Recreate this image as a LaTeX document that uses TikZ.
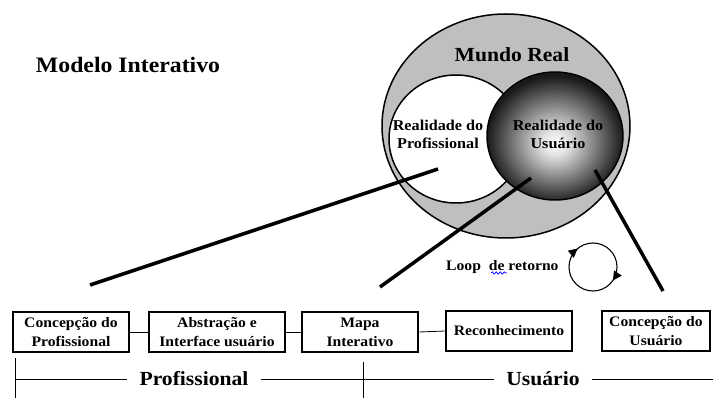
\documentclass[tikz,border=0pt]{standalone}
\usepackage{fontspec}
\setmainfont{Liberation Serif}[FakeStretch=1.08]
\usetikzlibrary{decorations.markings,decorations.pathmorphing,arrows.meta}
\pgfdeclareradialshading{ball}{\pgfpoint{0bp}{-3bp}}{color(0bp)=(white); color(5bp)=(white!88!black); color(25bp)=(black!90); color(50bp)=(black!90)}
\begin{document}
\begin{tikzpicture}[x=1pt,y=-1pt,
  box/.style={draw, line width=2.5pt, minimum height=40pt, inner sep=0pt, align=center, font=\fontsize{14.5}{19}\selectfont\bfseries},
  link/.style={line width=0.8pt},
  bigline/.style={line width=3.5pt},
  lbl/.style={inner sep=0pt, align=center},
  axis/.style={line width=0.8pt}
]
\useasboundingbox (0,0) rectangle (713,398);
% title
\node[lbl, font=\fontsize{22}{26}\selectfont\bfseries] (title) at (128,65) {Modelo Interativo};
% circles
\draw[fill=gray!50, line width=1.5pt] (506,126) ellipse [x radius=124, y radius=112];
\draw[fill=white, line width=1.5pt] (456,139) ellipse [x radius=67, y radius=64];
\draw[shade, shading=ball, line width=1.5pt] (555,136) ellipse [x radius=68, y radius=64];
\node[lbl, font=\fontsize{20}{24}\selectfont\bfseries] (mundo) at (512,55) {Mundo Real};
\node[lbl, font=\fontsize{15}{18}\selectfont\bfseries] (rprof) at (438,134) {Realidade do\\Profissional};
\node[lbl, font=\fontsize{15}{18}\selectfont\bfseries] (rusu) at (558,134) {Realidade do\\Usuário};
% big lines
\coordinate (p1) at (438,169); \coordinate (q1) at (90,285);
\coordinate (p2) at (531,178); \coordinate (q2) at (380,287);
\coordinate (p3) at (595,170); \coordinate (q3) at (663,291);
\draw[bigline] (p1) -- (q1);
\draw[bigline] (p2) -- (q2);
\draw[bigline] (p3) -- (q3);
% loop
\node[lbl, font=\fontsize{14.5}{16}\selectfont\bfseries, anchor=west] (loop) at (446,267) {Loop~~de retorno};
\draw[blue, line width=0.7pt, decorate, decoration={snake, segment length=4pt, amplitude=1.2pt}] (491,273) -- (507,273);
\draw[line width=1.1pt, postaction={decorate}, decoration={markings,
   mark=at position 0.095 with {\arrow{Triangle[length=9pt,width=9pt]}},
   mark=at position 0.64 with {\arrow{Triangle[length=9pt,width=9pt]}}}]
   (593,267) circle [radius=24];
% boxes
\node[box, minimum width=116pt] (b1) at (71,332) {Concepção do\\Profissional};
\node[box, minimum width=136pt] (b2) at (217,332) {Abstração e\\Interface usuário};
\node[box, minimum width=116pt] (b3) at (360,332) {Mapa\\Interativo};
\node[box, minimum width=126pt] (b4) at (509,331) {Reconhecimento};
\node[box, minimum width=108pt] (b5) at (656,331) {Concepção do\\Usuário};
\draw[link] (b1.east) -- (b2.west);
\draw[link] (b2.east) -- (b3.west);
\draw[link] (b3.east) -- (b4.west);
% bottom axis
\node[inner sep=12pt, font=\fontsize{20}{24}\selectfont\bfseries] (prof) at (194,379) {Profissional};
\node[inner sep=12pt, font=\fontsize{20}{24}\selectfont\bfseries] (usu) at (543,379) {Usuário};
\coordinate (L0) at (15,379); \coordinate (R0) at (713,379);
\coordinate (v1t) at (15,358); \coordinate (v1b) at (15,398);
\coordinate (v2t) at (363,362); \coordinate (v2b) at (363,398);
\draw[axis] (L0) -- (prof.west);
\draw[axis] (prof.east) -- (usu.west);
\draw[axis] (usu.east) -- (R0);
\draw[axis] (v1t) -- (v1b);
\draw[axis] (v2t) -- (v2b);
\end{tikzpicture}
\end{document}
